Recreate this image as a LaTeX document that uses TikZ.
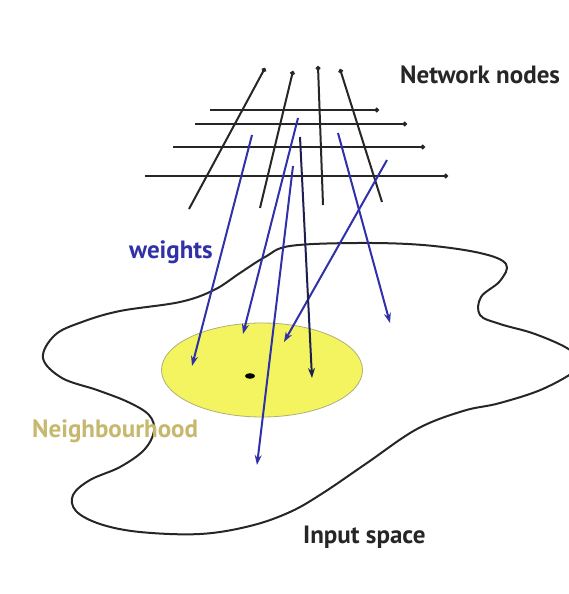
\documentclass[tikz,border=0pt]{standalone}
\usepackage{fontspec}
\setmainfont{PT Sans}
\usetikzlibrary{arrows.meta,shapes.geometric}
\definecolor{wblue}{RGB}{48,48,168}
\definecolor{wnavy}{RGB}{30,30,80}
\definecolor{khaki}{RGB}{198,184,110}
\definecolor{yfill}{RGB}{244,244,96}
\definecolor{yedge}{RGB}{175,175,120}
\tikzset{
  gridline/.style={draw=black!85, line width=2pt, -{Circle[length=4.5pt]}},
  weightarrow/.style={draw=wblue, line width=2pt, -{Stealth[length=10pt,width=7pt]}},
  lbl/.style={inner sep=0pt, anchor=base west, font=\bfseries\fontsize{25}{28}\selectfont}
}
\begin{document}
\begin{tikzpicture}[x=1pt,y=-1pt]
\useasboundingbox (0,0) rectangle (569,594);
\clip (0,0) rectangle (569,594);
% input space blob
\draw[line width=2pt, black!85, fill=white] plot[smooth cycle, tension=0.6] coordinates {
 (290,246) (357,243) (423,245) (480,253) (506,264) (500,281) (481,297) (480,315)
 (500,324) (535,334) (570,350) (580,366) (545,388) (500,403) (463,411) (417,429)
 (367,463) (323,493) (290,512) (250,526) (200,534) (140,532) (100,524) (76,511)
 (73,495) (90,480) (120,467) (144,450) (154,431) (149,415) (128,402) (97,390)
 (62,378) (43,358) (55,335) (82,322) (120,311) (180,302) (214,290) (240,273) (265,257)};
% neighbourhood
\node[draw=yedge, fill=yfill, line width=0.8pt, ellipse, minimum width=201pt, minimum height=94pt, inner sep=0pt] (nb) at (262,370) {};
\fill[black] (250,376) ellipse [x radius=5pt, y radius=2.8pt];
% network node grid
\coordinate (d1a) at (189,209); \coordinate (d1b) at (265,68);
\coordinate (d2a) at (260,208); \coordinate (d2b) at (293,71);
\coordinate (d3a) at (323,205); \coordinate (d3b) at (318,66);
\coordinate (d4a) at (382,202); \coordinate (d4b) at (340,69);
\coordinate (h1a) at (210,110); \coordinate (h1b) at (379,110);
\coordinate (h2a) at (195,124); \coordinate (h2b) at (407,124);
\coordinate (h3a) at (173,147); \coordinate (h3b) at (425,147);
\coordinate (h4a) at (145,176); \coordinate (h4b) at (448,176);
\foreach \n in {d1,d2,d3,d4,h1,h2,h3,h4} \draw[gridline] (\n a) -- (\n b);
% weights
\coordinate (w1a) at (252,135); \coordinate (w1b) at (192,366);
\coordinate (w2a) at (298,118); \coordinate (w2b) at (243,334);
\coordinate (w4a) at (293,166); \coordinate (w4b) at (257,465);
\coordinate (w5a) at (338,133); \coordinate (w5b) at (390,323);
\coordinate (w6a) at (387,160); \coordinate (w6b) at (284,342);
\coordinate (w3a) at (300,137); \coordinate (w3b) at (312,378);
\foreach \n in {w1,w2,w4,w5,w6} \draw[weightarrow] (\n a) -- (\n b);
\draw[weightarrow, draw=wnavy] (w3a) -- (w3b);
% labels
\node[lbl, text=black!85] (nn) at (400,84) {Network nodes};
\node[lbl, text=wblue] (wt) at (129,258) {weights};
\node[lbl, text=khaki] (nh) at (32,437) {Neighbourhood};
\node[lbl, text=black!85] (is) at (303,543) {Input space};
\end{tikzpicture}
\end{document}
